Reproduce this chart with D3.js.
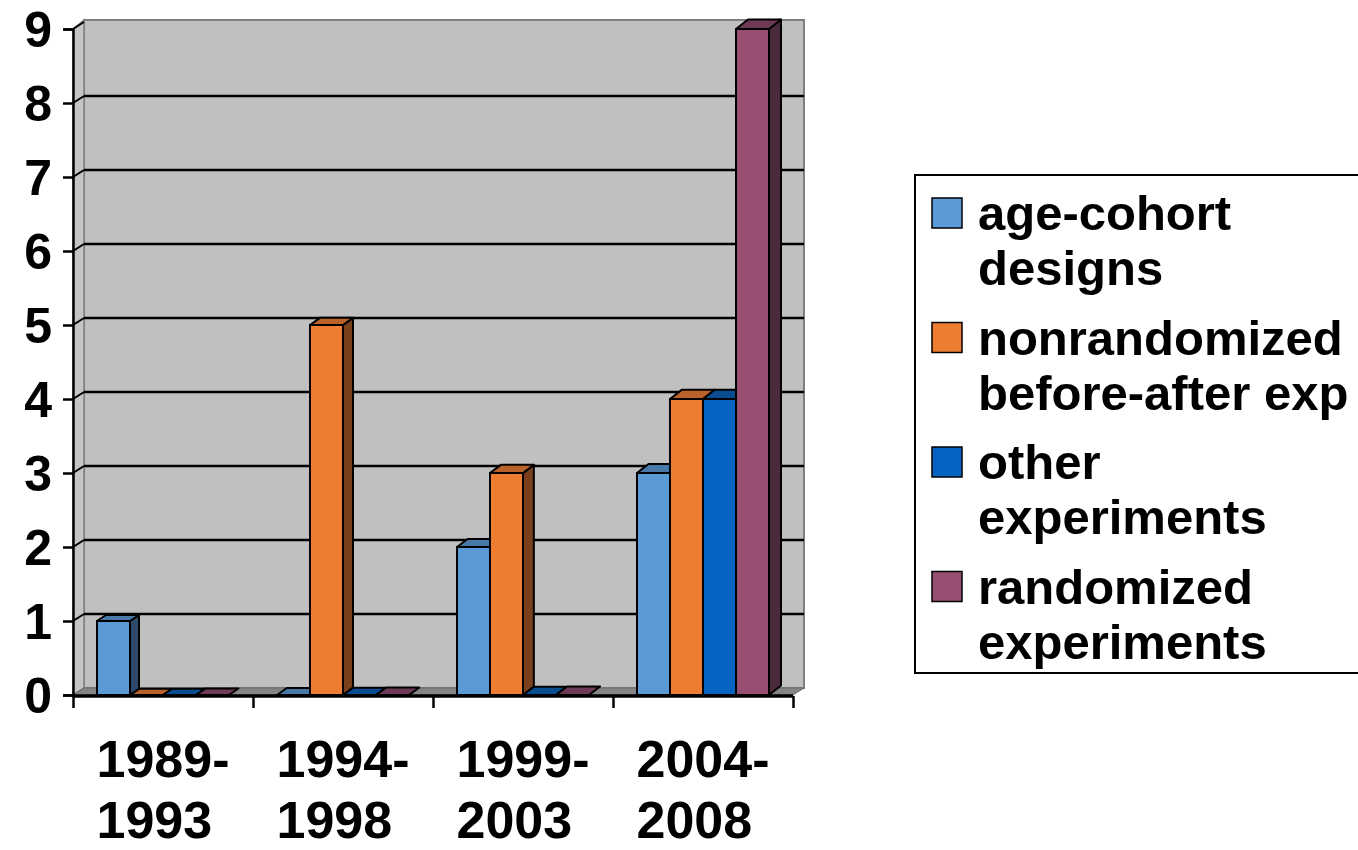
<!DOCTYPE html>
<html>
<head>
<meta charset="utf-8">
<script src="https://cdn.jsdelivr.net/npm/d3@7"></script>
<style>
  body { margin: 0; background: #fff; }
  text { font-family: "Liberation Sans", Arial, sans-serif; font-weight: bold; fill: #000; }
</style>
</head>
<body>
<div id="chart"></div>
<script>
// data
var periods = ["1989-1993", "1994-1998", "1999-2003", "2004-2008"];
var seriesNames = ["age-cohort designs", "nonrandomized before-after exp", "other experiments", "randomized experiments"];
var legendLines = [["age-cohort", "designs"], ["nonrandomized", "before-after exp"], ["other", "experiments"], ["randomized", "experiments"]];
var ageCohort = [1, 0, 2, 3];
var nonrandomized = [0, 5, 3, 4];
var otherExp = [0, 0, 0, 4];
var randomizedExp = [0, 0, 0, 9];
var yTicks = [0, 1, 2, 3, 4, 5, 6, 7, 8, 9];

var seriesValues = [ageCohort, nonrandomized, otherExp, randomizedExp];
var frontCol = ["#5B9BD5", "#ED7D31", "#0563C1", "#984F74"];
var topCol   = ["#4879A8", "#B9622A", "#0A4C90", "#6F3A55"];
var sideCol  = ["#2E4A6A", "#7A3F1B", "#033366", "#4A2A3B"];

var svgWidth = 1358, svgHeight = 850;
var margin = {left: 73, right: 565, top: 29, bottom: 155};
var plotRight = svgWidth - margin.right;      // 793
var plotBottom = svgHeight - margin.bottom;   // 695
var wallDx = 11, wallDy = -7;

var svg = d3.select("#chart").append("svg")
    .attr("width", svgWidth)
    .attr("height", svgHeight);

var yScale = d3.scaleLinear().domain([0, 9]).range([plotBottom, margin.top]);
var xScale = d3.scaleBand().domain(periods).range([margin.left, plotRight]).padding(0);
var xInner = d3.scaleBand().domain(seriesNames).range([24, xScale.bandwidth() - 24]);

// depth of a bar grows a little to the right (perspective)
function depth(x) {
    var t = (x - 130) / 640;
    return [9 + 3 * t, -(6 + 3.5 * t)];
}

// walls
var wallTop = yScale(9) + wallDy - 2;
svg.append("rect")
    .attr("x", margin.left + wallDx)
    .attr("y", wallTop)
    .attr("width", plotRight - margin.left)
    .attr("height", plotBottom + wallDy - wallTop)
    .attr("fill", "#C0C0C0")
    .attr("stroke", "#808080")
    .attr("stroke-width", 2);

svg.append("path")
    .attr("d", `M${margin.left},${yScale(9)} L${margin.left + wallDx},${wallTop} L${margin.left + wallDx},${plotBottom + wallDy} L${margin.left},${plotBottom} Z`)
    .attr("fill", "#C4C4C4")
    .attr("stroke", "#808080")
    .attr("stroke-width", 1.5);

svg.append("path")
    .attr("d", `M${margin.left},${plotBottom} L${plotRight},${plotBottom} L${plotRight + wallDx},${plotBottom + wallDy} L${margin.left + wallDx},${plotBottom + wallDy} Z`)
    .attr("fill", "#858585")
    .attr("stroke", "#6A6A6A")
    .attr("stroke-width", 1);

// gridlines
var grid = svg.append("g");
yTicks.filter(function(d){ return d > 0 && d < 9; }).forEach(function(d) {
    var y = yScale(d);
    grid.append("line")
        .attr("x1", margin.left + wallDx).attr("x2", plotRight + wallDx)
        .attr("y1", y + wallDy).attr("y2", y + wallDy)
        .attr("stroke", "#000").attr("stroke-width", 2.5);
    grid.append("line")
        .attr("x1", margin.left).attr("x2", margin.left + wallDx)
        .attr("y1", y).attr("y2", y + wallDy)
        .attr("stroke", "#000").attr("stroke-width", 2);
});
svg.append("line")
    .attr("x1", margin.left).attr("x2", margin.left + wallDx)
    .attr("y1", yScale(9)).attr("y2", yScale(9) + wallDy)
    .attr("stroke", "#000").attr("stroke-width", 2);

// bars, drawn left to right so later fronts hide earlier side faces
var barsG = svg.append("g");
periods.forEach(function(p, i) {
    seriesNames.forEach(function(s, j) {
        var v = seriesValues[j][i];
        var x0 = xScale(p) + xInner(s);
        var x1 = x0 + xInner.bandwidth();
        var yTop = yScale(v);
        var d = depth(x1);
        var dx = d[0], dy = d[1];
        if (v > 0) {
            barsG.append("path")
                .attr("d", `M${x1},${yTop} L${x1 + dx},${yTop + dy} L${x1 + dx},${plotBottom + dy} L${x1},${plotBottom} Z`)
                .attr("fill", sideCol[j]).attr("stroke", "#000").attr("stroke-width", 2)
                .attr("stroke-linejoin", "round");
        }
        barsG.append("path")
            .attr("d", `M${x0},${yTop} L${x0 + dx},${yTop + dy} L${x1 + dx},${yTop + dy} L${x1},${yTop} Z`)
            .attr("fill", topCol[j]).attr("stroke", "#000").attr("stroke-width", 2)
            .attr("stroke-linejoin", "round");
        if (v > 0) {
            barsG.append("rect")
                .attr("x", x0).attr("y", yTop)
                .attr("width", x1 - x0).attr("height", plotBottom - yTop)
                .attr("fill", frontCol[j]).attr("stroke", "#000").attr("stroke-width", 2);
        }
    });
});

// y axis
var leftAxis = d3.axisLeft(yScale).tickValues(yTicks).tickSize(10).tickPadding(11).tickFormat(d3.format("d"));
var yAxisG = svg.append("g")
    .attr("transform", `translate(${margin.left},0)`)
    .call(leftAxis);
yAxisG.select(".domain").attr("stroke", "#000").attr("stroke-width", 2.5);
yAxisG.selectAll(".tick line").attr("stroke", "#000").attr("stroke-width", 2.5);
yAxisG.selectAll(".tick text")
    .attr("font-size", 50)
    .attr("font-family", "'Liberation Sans', Arial, sans-serif")
    .attr("font-weight", "bold")
    .attr("fill", "#000")
    .attr("dy", "0.35em");

// x axis: ticks on the category boundaries
var edgeScale = d3.scaleLinear().domain([0, periods.length]).range([margin.left, plotRight]);
var bottomAxis = d3.axisBottom(edgeScale).tickValues(d3.range(periods.length + 1)).tickSize(12).tickFormat("");
var xAxisG = svg.append("g")
    .attr("transform", `translate(0,${plotBottom + 1})`)
    .call(bottomAxis);
xAxisG.select(".domain").attr("stroke", "#000").attr("stroke-width", 3.5).attr("d", `M${margin.left},0H${plotRight}`);
xAxisG.selectAll(".tick line").attr("stroke", "#000").attr("stroke-width", 2.5);

// category labels, two lines left-aligned as a centred block
var xLabels = svg.append("g");
periods.forEach(function(p) {
    var parts = p.split("-");
    var lines = [parts[0] + "-", parts[1]];
    var cx = xScale(p) + xScale.bandwidth() / 2;
    var t = xLabels.append("text").attr("font-size", 52);
    t.append("tspan").attr("y", 777).text(lines[0]);
    t.append("tspan").attr("y", 838).text(lines[1]);
    var w = t.select("tspan").node().getComputedTextLength();
    t.selectAll("tspan").attr("x", cx - w / 2);
});

// legend
var legend = svg.append("g");
legend.append("rect")
    .attr("x", 915).attr("y", 175)
    .attr("width", 460).attr("height", 498)
    .attr("fill", "#fff").attr("stroke", "#000").attr("stroke-width", 2);
legendLines.forEach(function(lines, j) {
    var base = 230 + j * 124.5;
    legend.append("rect")
        .attr("x", 932).attr("y", base - 32)
        .attr("width", 30).attr("height", 30)
        .attr("fill", frontCol[j]).attr("stroke", "#000").attr("stroke-width", 1.5);
    lines.forEach(function(l, k) {
        legend.append("text")
            .attr("x", 978).attr("y", base + k * 55)
            .attr("font-size", 49)
            .text(l);
    });
});
</script>
</body>
</html>
